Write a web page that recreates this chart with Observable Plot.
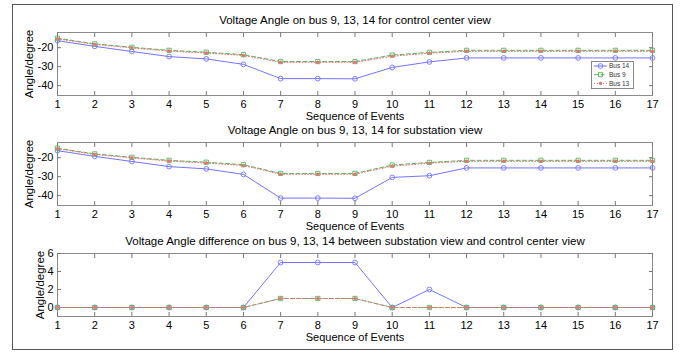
<!DOCTYPE html>
<html><head><meta charset="utf-8">
<script src="https://cdn.jsdelivr.net/npm/d3@7"></script>
<script src="https://cdn.jsdelivr.net/npm/@observablehq/plot@0.6"></script>
<style>
body{margin:0;background:#fff;}
#wrap{position:relative;width:681px;height:352px;font-family:"Liberation Sans",Arial,sans-serif;overflow:hidden;}
#border{position:absolute;left:12px;top:4px;width:661px;height:346px;border:1.5px solid #555;box-sizing:border-box;}
.panel{position:absolute;left:0;}
#legend{position:absolute;left:591px;top:61px;}
</style></head><body><div id="wrap"><div id="border"></div></div>
<script>
// ---- data ----
const events = [1,2,3,4,5,6,7,8,9,10,11,12,13,14,15,16,17];
const xTicks = [1,2,3,4,5,6,7,8,9,10,11,12,13,14,15,16,17];
const seriesNames = ["Bus 14", "Bus 9", "Bus 13"];

const bus14Control = [-16.3,-19.3,-22.0,-24.7,-25.9,-28.8,-36.3,-36.3,-36.4,-30.4,-27.5,-25.4,-25.4,-25.4,-25.4,-25.4,-25.4];
const bus9Control  = [-15.0,-18.0,-19.8,-21.4,-22.4,-23.7,-27.3,-27.3,-27.3,-23.9,-22.5,-21.4,-21.4,-21.4,-21.4,-21.4,-21.4];
const bus13Control = [-15.3,-18.3,-20.1,-21.8,-22.8,-24.1,-27.7,-27.7,-27.7,-24.5,-22.9,-21.9,-21.9,-21.9,-21.9,-21.9,-21.9];

const bus14Sub = [-16.3,-19.3,-22.0,-24.7,-25.9,-28.8,-41.3,-41.3,-41.4,-30.4,-29.5,-25.4,-25.4,-25.4,-25.4,-25.4,-25.4];
const bus9Sub  = [-15.0,-18.0,-19.8,-21.4,-22.4,-23.7,-28.3,-28.3,-28.3,-23.9,-22.5,-21.4,-21.4,-21.4,-21.4,-21.4,-21.4];
const bus13Sub = [-15.3,-18.3,-20.1,-21.8,-22.8,-24.1,-28.7,-28.7,-28.7,-24.5,-22.9,-21.9,-21.9,-21.9,-21.9,-21.9,-21.9];

const bus14Diff = [0,0,0,0,0,0,5,5,5,0,2,0,0,0,0,0,0];
const bus9Diff  = [0,0,0,0,0,0,1,1,1,0,0,0,0,0,0,0,0];
const bus13Diff = [0,0,0,0,0,0,1,1,1,0,0,0,0,0,0,0,0];

const angleTicks = [-40,-30,-20];
const diffTicks = [0,2,4,6];

const titles = [
  "Voltage Angle on bus 9, 13, 14 for control center view",
  "Voltage Angle on bus 9, 13, 14 for substation view",
  "Voltage Angle difference on bus 9, 13, 14 between substation view and control center view"
];
const xLabel = "Sequence of Events";
const yLabel = "Angle/degree";

// ---- styles ----
const styles = {
  "Bus 14": {color:"#7373ff", dash:null, symbol:"circle", r:2.4, fill:"none"},
  "Bus 9":  {color:"#5cb35c", dash:"4,2.5", symbol:"square", r:2.4, fill:"none"},
  "Bus 13": {color:"#e67373", dash:"1,2", symbol:"circle", r:1.3, fill:"#e67373"}
};

function panel({top, title, values, yDomain, yTicks, yLabelShift}) {
  const marks = [
    Plot.frame({stroke:"#8a8a8a", strokeWidth:1}),
    Plot.axisX({ticks:xTicks, tickSize:-4, tickPadding:9, tickFormat:d=>String(d), label:null, stroke:"#777", fill:"#000", fontSize:11}),
    Plot.axisX({anchor:"top", ticks:xTicks, tickSize:-4, tickFormat:()=>"", label:null, stroke:"#777"}),
    Plot.axisY({ticks:yTicks, tickSize:-4, tickPadding:8, tickFormat:d=>String(d), label:null, stroke:"#777", fill:"#000", fontSize:11}),
    Plot.axisY({anchor:"right", ticks:yTicks, tickSize:-4, tickFormat:()=>"", label:null, stroke:"#777"}),
    Plot.text([title], {text:d=>d, frameAnchor:"top", lineAnchor:"middle", dy:-12.5, fontSize:11.5, fill:"#000"}),
    Plot.text([xLabel], {text:d=>d, frameAnchor:"bottom", lineAnchor:"middle", dy:20.5, fontSize:11, fill:"#000"}),
    Plot.text([yLabel], {text:d=>d, frameAnchor:"left", textAnchor:"middle", lineAnchor:"middle", rotate:-90, dx:yLabelShift, fontSize:11.5, fill:"#000"})
  ];
  seriesNames.forEach((name, k) => {
    const s = styles[name];
    const vals = values[k];
    const data = events.map((e, i) => ({x:e, y:vals[i]}));
    marks.push(Plot.line(data, {x:"x", y:"y", stroke:s.color, strokeWidth:1, strokeDasharray:s.dash}));
    marks.push(Plot.dot(data, {x:"x", y:"y", stroke:s.color, fill:s.fill, r:s.r, symbol:s.symbol, strokeWidth:0.9}));
  });
  const svg = Plot.plot({
    width:681, height:24+63+30,
    marginLeft:57, marginRight:29, marginTop:24, marginBottom:30,
    x:{domain:[1,17]},
    y:{domain:yDomain},
    style:{background:"transparent", fontFamily:"Liberation Sans, Arial, sans-serif", fontSize:"11px", overflow:"visible"},
    marks
  });
  svg.classList.add("panel");
  svg.style.top = top + "px";
  document.getElementById("wrap").appendChild(svg);
}

panel({top:8, title:titles[0], values:[bus14Control,bus9Control,bus13Control], yDomain:[-45.2,-12], yTicks:angleTicks, yLabelShift:-28.5});
panel({top:118, title:titles[1], values:[bus14Sub,bus9Sub,bus13Sub], yDomain:[-45.2,-12], yTicks:angleTicks, yLabelShift:-28.5});
panel({top:229, title:titles[2], values:[bus14Diff,bus9Diff,bus13Diff], yDomain:[-1,6], yTicks:diffTicks, yLabelShift:-17});

// ---- legend ----
const lg = d3.select("#wrap").append("svg").attr("id","legend").attr("width",43).attr("height",28);
lg.append("rect").attr("x",0.5).attr("y",0.5).attr("width",42).attr("height",27).attr("fill","#fff").attr("stroke","#888");
seriesNames.forEach((name, i) => {
  const s = styles[name];
  const y = 5 + i * 8.7;
  lg.append("line").attr("x1",3).attr("x2",16).attr("y1",y).attr("y2",y).attr("stroke",s.color).attr("stroke-width",1).attr("stroke-dasharray",s.dash);
  if (s.symbol === "square") lg.append("rect").attr("x",9.5-2).attr("y",y-2).attr("width",4).attr("height",4).attr("fill","none").attr("stroke",s.color).attr("stroke-width",0.9);
  else lg.append("circle").attr("cx",9.5).attr("cy",y).attr("r",s.r).attr("fill",s.fill).attr("stroke",s.color).attr("stroke-width",0.9);
  lg.append("text").attr("x",18).attr("y",y).attr("dy","0.35em").attr("font-size",6.5).attr("font-family","Liberation Sans, Arial, sans-serif").attr("fill","#333").text(name);
});
</script></body></html>
